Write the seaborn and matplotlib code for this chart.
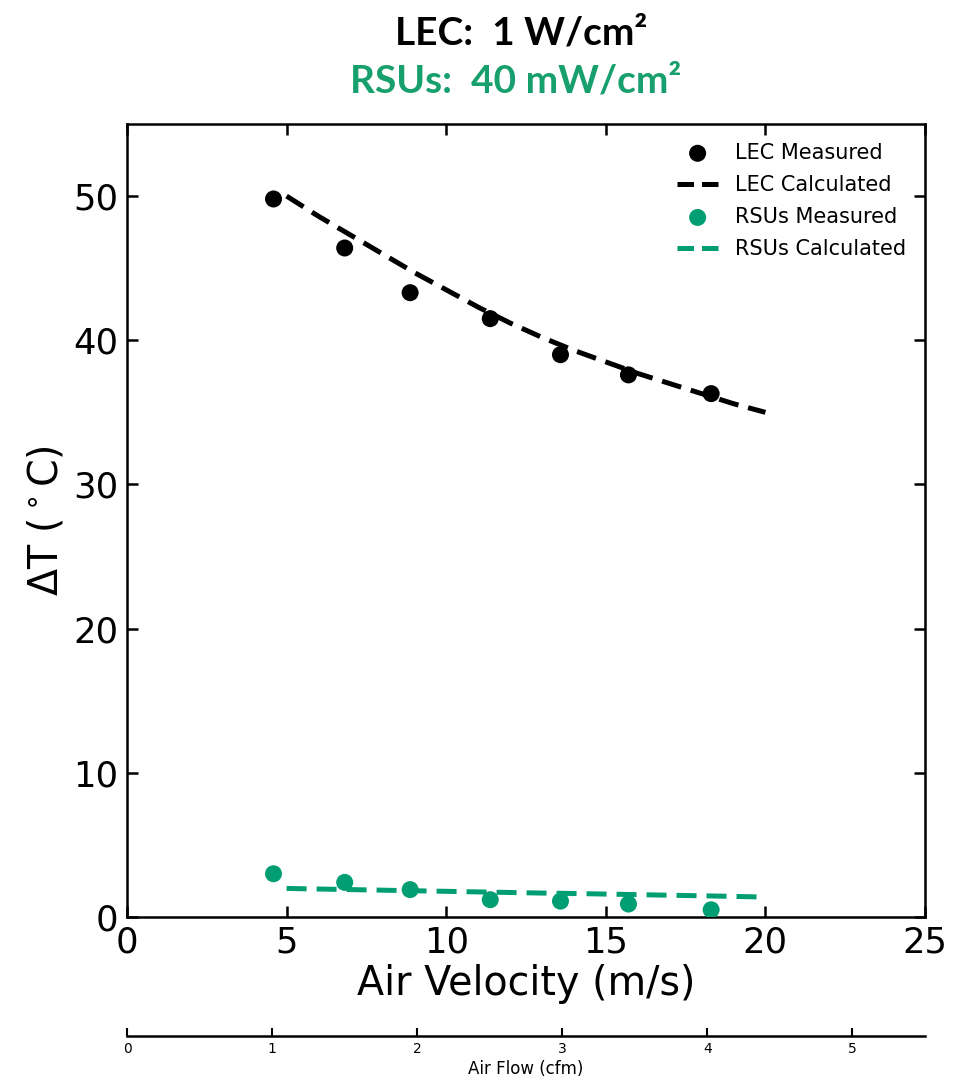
import matplotlib
matplotlib.use("Agg")
import matplotlib.pyplot as plt
import seaborn as sns
import pandas as pd

# ---- data ----
velocity_measured = [4.59, 6.82, 8.87, 11.38, 13.58, 15.71, 18.3]
lec_measured = [49.8, 46.4, 43.3, 41.5, 39.0, 37.6, 36.3]
rsu_measured = [3.0, 2.4, 1.9, 1.2, 1.1, 0.9, 0.5]

velocity_calc = [5, 6, 7, 8, 9, 10, 11, 12, 13, 14, 15, 16, 17, 18, 19, 20]
lec_calc = [50.0, 48.6, 47.3, 46.0, 44.7, 43.5, 42.3, 41.2, 40.2, 39.3, 38.5,
            37.7, 37.0, 36.3, 35.6, 35.0]
rsu_calc = [1.98, 1.94, 1.90, 1.86, 1.82, 1.78, 1.74, 1.70, 1.66, 1.63, 1.59,
            1.55, 1.51, 1.47, 1.43, 1.38]

xticks_main = [0, 5, 10, 15, 20, 25]
yticks_main = [0, 10, 20, 30, 40, 50]
airflow_ticks = [0, 1, 2, 3, 4, 5]

BLACK = "#000000"
GREEN = "#029e73"
TITLE_GREEN = "#17a06e"

sns.set_style("ticks")
plt.rcParams["font.family"] = ["DejaVu Sans"]
plt.rcParams["mathtext.fontset"] = "dejavusans"
for k in ["text.color", "axes.labelcolor", "xtick.color", "ytick.color", "axes.edgecolor"]:
    plt.rcParams[k] = "black"

fig = plt.figure(figsize=(9.73, 10.8), dpi=100)
ax = fig.add_axes([127 / 973, 1 - 917 / 1080, (925 - 127) / 973, (917 - 124) / 1080])

meas = pd.DataFrame({"v": velocity_measured, "lec": lec_measured, "rsu": rsu_measured})
calc = pd.DataFrame({"v": velocity_calc, "lec": lec_calc, "rsu": rsu_calc})

sns.scatterplot(data=meas, x="v", y="lec", ax=ax, color=BLACK, s=150,
                edgecolor="none", label="LEC Measured", zorder=3)
sns.lineplot(data=calc, x="v", y="lec", ax=ax, color=BLACK, lw=3.6,
             dashes=False, label="LEC Calculated", zorder=2)
sns.scatterplot(data=meas, x="v", y="rsu", ax=ax, color=GREEN, s=150,
                edgecolor="none", label="RSUs Measured", zorder=3)
sns.lineplot(data=calc, x="v", y="rsu", ax=ax, color=GREEN, lw=3.6,
             dashes=False, label="RSUs Calculated", zorder=2)
for ln in ax.get_lines():
    ln.set_linestyle((0, (4, 2)))

ax.set_xlim(0, 25)
ax.set_ylim(0, 55)
ax.set_xticks(xticks_main)
ax.set_yticks(yticks_main)
ax.tick_params(direction="in", length=8, width=1.8, labelsize=25.5,
               top=True, right=True, pad=6, colors="black")
for sp in ax.spines.values():
    sp.set_linewidth(1.8)
    sp.set_color("black")
    sp.set_visible(True)
ax.set_xlabel("Air Velocity (m/s)", fontsize=28.5, labelpad=3, color="black")
ax.set_ylabel(r"ΔT ($^\circ$C)", fontsize=28.5, labelpad=5, color="black")

leg = ax.legend(loc="upper right", frameon=False, fontsize=15,
                labelspacing=0.58, handlelength=2.0, borderaxespad=0.5)
for t in leg.get_texts():
    t.set_color("black")
for h in leg.legend_handles:
    try:
        h.set_linestyle((0, (3.3, 1.6)))
    except Exception:
        pass

# secondary airflow axis
ax2 = fig.add_axes([127 / 973, 1 - 1036 / 1080, (925 - 127) / 973, 0.0001])
ax2.set_xlim(0, 5.5)
ax2.set_xticks(airflow_ticks)
ax2.set_yticks([])
for side in ["left", "right", "top"]:
    ax2.spines[side].set_visible(False)
ax2.spines["bottom"].set_linewidth(1.8)
ax2.spines["bottom"].set_color("black")
ax2.tick_params(axis="x", direction="in", length=6, width=1.5, labelsize=10, pad=4,
                colors="black")
ax2.set_xlabel("Air Flow (cfm)", fontsize=12, labelpad=3, color="black")
ax2.patch.set_visible(False)

# titles
fig.text(521 / 973, 1 - 44 / 1080, "LEC:  1 W/cm²", ha="center", va="baseline",
         fontsize=28, fontweight="bold", color=BLACK, family=["Lato", "DejaVu Sans"])
fig.text(516 / 973, 1 - 92 / 1080, "RSUs:  40 mW/cm²", ha="center", va="baseline",
         fontsize=28, fontweight="bold", color=TITLE_GREEN, family=["Lato", "DejaVu Sans"])

fig.savefig("out.png", dpi=100)
